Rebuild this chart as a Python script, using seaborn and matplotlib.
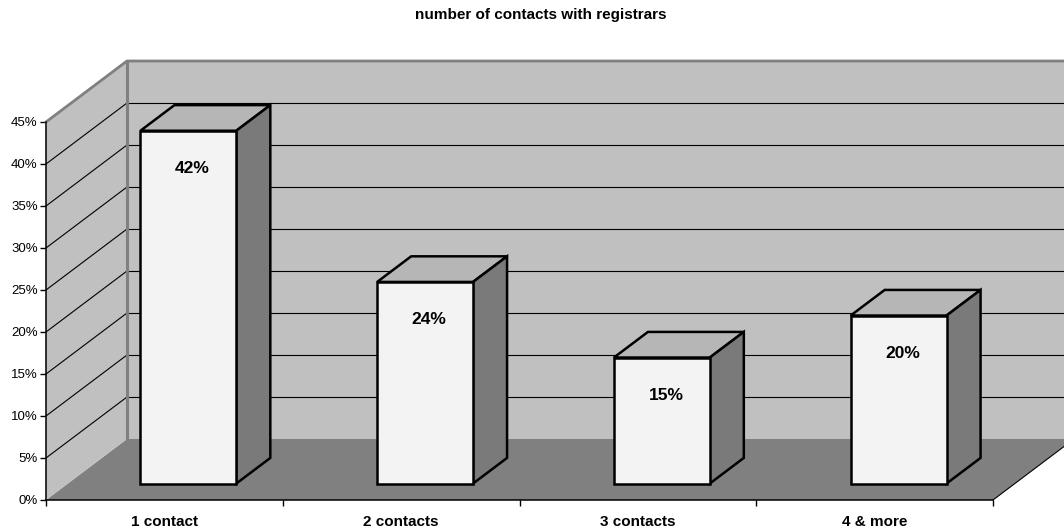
import matplotlib
matplotlib.use("Agg")
import matplotlib.pyplot as plt
from matplotlib.patches import Polygon
from matplotlib.lines import Line2D
import seaborn as sns
import pandas as pd

# ---- data ----
categories = ["1 contact", "2 contacts", "3 contacts", "4 & more"]
shares = [42, 24, 15, 20]
value_labels = ["42%", "24%", "15%", "20%"]
y_ticks = [0, 5, 10, 15, 20, 25, 30, 35, 40, 45]
y_tick_labels = ["0%", "5%", "10%", "15%", "20%", "25%", "30%", "35%", "40%", "45%"]
chart_title = "number of contacts with registrars"

sns.set_theme(style="white")
plt.rcParams["font.family"] = ["Liberation Sans", "DejaVu Sans"]
plt.rcParams["text.color"] = "black"
plt.rcParams["xtick.color"] = "black"
plt.rcParams["ytick.color"] = "black"
plt.rcParams["xtick.labelcolor"] = "black"
plt.rcParams["ytick.labelcolor"] = "black"

W, H = 1064, 531
fig = plt.figure(figsize=(W / 100, H / 100), dpi=100)
ax = fig.add_axes([46 / W, 31 / H, 947 / W, 378 / H])
ax.patch.set_visible(False)

df = pd.DataFrame({"category": categories, "share": shares})
sns.barplot(data=df, x="category", y="share", width=0.405, color="#f3f3f3",
            saturation=1, edgecolor="black", linewidth=1.8, ax=ax, zorder=5)
bars = list(ax.patches)

ax.set_xlim(-0.5, 3.5)
ax.set_ylim(0, 45)

# oblique depth vector of the 3-D box, in data units
DX, DY = 0.342, 7.26
F0, F1 = 0.27, 0.69          # front / back depth fraction of the columns
XR = 3.5 + DX + 0.2          # right end of the back wall (runs off the figure)

wall_c, floor_c, border_c = "#c0c0c0", "#808080", "#808080"

def poly(pts, **kw):
    p = Polygon(pts, closed=True, clip_on=False, **kw)
    ax.add_patch(p)
    return p

# floor, back wall, side wall
poly([(-0.5, 0), (3.5, 0), (3.5 + DX, DY), (-0.5 + DX, DY)], fc=floor_c, lw=0, zorder=0.5)
poly([(-0.5 + DX, DY), (XR, DY), (XR, 45 + DY), (-0.5 + DX, 45 + DY)], fc=wall_c, lw=0, zorder=0.5)
poly([(-0.5, 0), (-0.5, 45), (-0.5 + DX, 45 + DY), (-0.5 + DX, DY)], fc=wall_c, lw=0, zorder=0.6)

def seg(xs, ys, **kw):
    ax.add_line(Line2D(xs, ys, clip_on=False, **kw))

# gridlines on side and back walls
for v in y_ticks[1:-1]:
    seg([-0.5, -0.5 + DX], [v, v + DY], color="black", lw=0.8, zorder=1)
    seg([-0.5 + DX, XR], [v + DY, v + DY], color="black", lw=0.8, zorder=1)

# wall borders
seg([-0.5, -0.5 + DX, XR], [45, 45 + DY, 45 + DY], color=border_c, lw=2, zorder=1.5)
seg([-0.5 + DX, -0.5 + DX], [DY, 45 + DY], color=border_c, lw=2.2, zorder=1.5)
seg([3.5, 3.5 + DX], [0, DY], color="black", lw=0.8, zorder=1.5)

# turn the flat bars into boxes standing on the floor
ddx, ddy = (F1 - F0) * DX, (F1 - F0) * DY
for p, lab in zip(bars, value_labels):
    x0, w, h = p.get_x(), p.get_width(), p.get_height()
    xl, yb = x0 + F0 * DX + 0.009, F0 * DY
    xr, yt = xl + w, yb + h
    p.set_x(xl)
    p.set_y(yb)
    p.set_joinstyle("miter")
    poly([(xl, yt), (xr, yt), (xr + ddx, yt + ddy), (xl + ddx, yt + ddy)],
         fc="#b6b6b6", ec="black", lw=1.8, joinstyle="miter", zorder=4)
    poly([(xr, yb), (xr + ddx, yb + ddy), (xr + ddx, yt + ddy), (xr, yt)],
         fc="#7a7a7a", ec="black", lw=1.8, joinstyle="miter", zorder=4)
    ax.annotate(lab, (xl + w / 2, yt), xytext=(3, -27), textcoords="offset points",
                ha="center", va="center", fontsize=12.5, fontweight="bold",
                color="black", zorder=6)

# axes
for s in ["top", "right"]:
    ax.spines[s].set_visible(False)
for s in ["left", "bottom"]:
    ax.spines[s].set_color("black")
    ax.spines[s].set_linewidth(1.1)
    ax.spines[s].set_zorder(3)

ax.set_yticks(y_ticks)
ax.set_yticklabels(y_tick_labels, fontsize=9.5, color="black")
ax.tick_params(axis="y", direction="out", length=4, width=1, color="black", pad=2, left=True)

ax.set_xticks(range(len(categories)))
ax.set_xticklabels(categories, fontsize=11, fontweight="bold", color="black")
ax.set_xticks([-0.5, 0.5, 1.5, 2.5, 3.5], minor=True)
ax.tick_params(axis="x", which="major", length=0, pad=11)
ax.tick_params(axis="x", which="minor", direction="out", length=4, width=1, color="black", bottom=True)
ax.set_xlabel("")
ax.set_ylabel("")

fig.text(541 / W, 1 - 15 / H, chart_title, ha="center", va="center",
         fontsize=11, fontweight="bold", color="black")

fig.savefig("out.png", dpi=100)
